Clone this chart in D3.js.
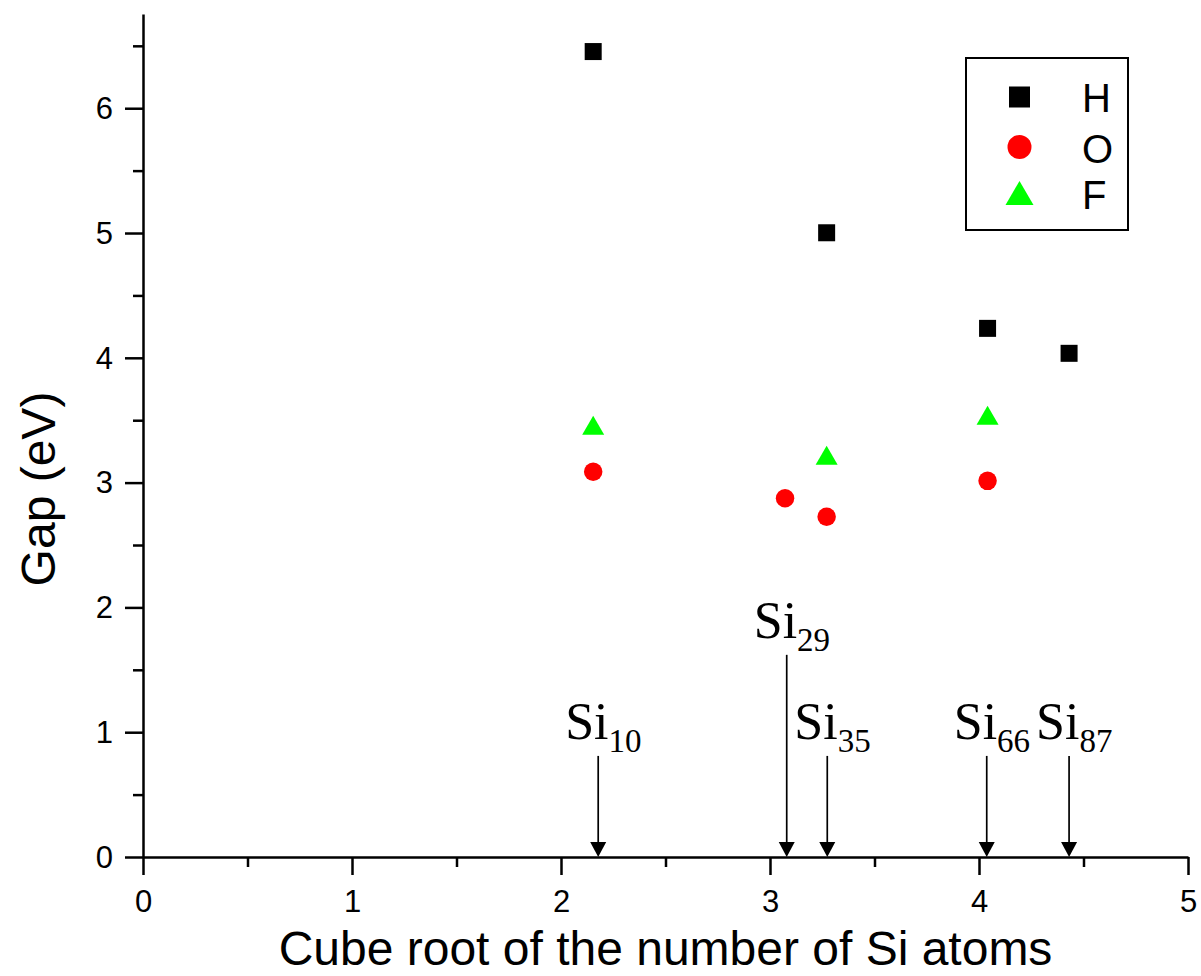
<!DOCTYPE html>
<html>
<head>
<meta charset="utf-8">
<script src="https://cdn.jsdelivr.net/npm/d3@7"></script>
<style>
  html, body { margin: 0; padding: 0; background: #fff; }
  svg { display: block; }
  text { font-family: "Liberation Sans", Arial, sans-serif; fill: #000; }
  .serif { font-family: "Liberation Serif", "Times New Roman", serif; }
</style>
</head>
<body>
<script>
// Band gap of passivated Si clusters vs. cube root of cluster size
const H_x = [2.154, 3.271, 4.041, 4.431];
const H_y = [6.454, 5.002, 4.236, 4.036];
const O_x = [2.154, 3.072, 3.271, 4.041];
const O_y = [3.087, 2.875, 2.726, 3.014];
const F_x = [2.154, 3.271, 4.041];
const F_y = [3.459, 3.219, 3.539];

const seriesNames = ["H", "O", "F"];
const xTicks = [0, 1, 2, 3, 4, 5];
const xMinorTicks = [0.5, 1.5, 2.5, 3.5, 4.5];
const yTicks = [0, 1, 2, 3, 4, 5, 6];
const yMinorTicks = [0.5, 1.5, 2.5, 3.5, 4.5, 5.5, 6.5];

// Cluster markers along the x axis: subscript size, arrow position, arrow tail height
const clusterSizes = ["10", "29", "35", "66", "87"];
const clusterArrowX = [2.178, 3.08, 3.274, 4.037, 4.431];
const clusterArrowTop = [0.81, 1.62, 0.81, 0.81, 0.81];

const W = 1201, Hgt = 976;
const svg = d3.select("body").append("svg").attr("width", W).attr("height", Hgt);

const x = d3.scaleLinear().domain([0, 5]).range([143, 1188]);
const y = d3.scaleLinear().domain([0, 6.755]).range([857, 14]);

const AX = 2.5;

// x axis: major and minor ticks
const gx = svg.append("g").attr("transform", `translate(0,${y(0)})`)
  .call(d3.axisBottom(x).tickValues(xTicks).tickSize(18).tickSizeOuter(0).tickFormat(d3.format("d")));
svg.append("g").attr("transform", `translate(0,${y(0)})`)
  .call(d3.axisBottom(x).tickValues(xMinorTicks).tickSize(10).tickSizeOuter(0).tickFormat(""))
  .select(".domain").remove();

// y axis: major and minor ticks
const gy = svg.append("g").attr("transform", `translate(${x(0)},0)`)
  .call(d3.axisLeft(y).tickValues(yTicks).tickSize(18).tickSizeOuter(0).tickFormat(d3.format("d")));
svg.append("g").attr("transform", `translate(${x(0)},0)`)
  .call(d3.axisLeft(y).tickValues(yMinorTicks).tickSize(10).tickSizeOuter(0).tickFormat(""))
  .select(".domain").remove();

svg.selectAll(".domain, .tick line").attr("stroke", "#000").attr("stroke-width", AX);
svg.selectAll(".tick text").attr("font-family", "Liberation Sans, Arial, sans-serif")
  .attr("font-size", 31).attr("fill", "#000");
gx.selectAll(".tick text").attr("y", 33).attr("dy", "0.71em");
gy.selectAll(".tick text").attr("x", -30).attr("dy", "0.33em");

// axis titles
svg.append("text").attr("x", (x(0) + x(5)) / 2).attr("y", 965)
  .attr("text-anchor", "middle").attr("font-size", 48)
  .text("Cube root of the number of Si atoms");
svg.append("text").attr("transform", `translate(55,489) rotate(-90)`)
  .attr("text-anchor", "middle").attr("font-size", 48)
  .text("Gap (eV)");

// marker shapes
function trianglePath(w, h) {
  return `M0,${-h / 2}L${w / 2},${h / 2}L${-w / 2},${h / 2}Z`;
}
const sqPlot = 17, circR = 9.25, triW = 22, triH = 19;

const gData = svg.append("g");
gData.selectAll("rect.h").data(H_x.map((v, i) => [v, H_y[i]])).join("rect")
  .attr("class", "h")
  .attr("x", d => x(d[0]) - sqPlot / 2).attr("y", d => y(d[1]) - sqPlot / 2)
  .attr("width", sqPlot).attr("height", sqPlot).attr("fill", "#000");
gData.selectAll("circle.o").data(O_x.map((v, i) => [v, O_y[i]])).join("circle")
  .attr("class", "o")
  .attr("cx", d => x(d[0])).attr("cy", d => y(d[1])).attr("r", circR).attr("fill", "#ff0000");
gData.selectAll("path.f").data(F_x.map((v, i) => [v, F_y[i]])).join("path")
  .attr("class", "f")
  .attr("transform", d => `translate(${x(d[0])},${y(d[1])})`)
  .attr("d", trianglePath(triW, triH)).attr("fill", "#00ff00");

// cluster arrows and labels
const gArr = svg.append("g");
clusterSizes.forEach((s, i) => {
  const ax = x(clusterArrowX[i]);
  const top = y(clusterArrowTop[i]);
  const bottom = y(0);
  gArr.append("line").attr("x1", ax).attr("x2", ax).attr("y1", top).attr("y2", bottom - 14)
    .attr("stroke", "#000").attr("stroke-width", 1.7);
  gArr.append("path")
    .attr("d", `M${ax - 8},${bottom - 15}L${ax + 8},${bottom - 15}L${ax},${bottom}Z`)
    .attr("fill", "#000");
  const t = gArr.append("text").attr("class", "serif")
    .attr("x", ax - 33).attr("y", top - 17).attr("font-size", 52);
  t.append("tspan").text("Si");
  t.append("tspan").attr("font-size", 33).attr("dy", 13).text(s);
});

// legend
const lg = svg.append("g");
lg.append("rect").attr("x", 966).attr("y", 58).attr("width", 162).attr("height", 172)
  .attr("fill", "none").attr("stroke", "#000").attr("stroke-width", 2);
const lx = 1019.5, rows = [97, 147, 193], tb = [111.7, 162.5, 209.3];
lg.append("rect").attr("x", lx - 10.5).attr("y", rows[0] - 10.5).attr("width", 21).attr("height", 21).attr("fill", "#000");
lg.append("circle").attr("cx", lx).attr("cy", rows[1]).attr("r", 12).attr("fill", "#ff0000");
lg.append("path").attr("transform", `translate(${lx},${rows[2]})`).attr("d", trianglePath(28, 24)).attr("fill", "#00ff00");
seriesNames.forEach((n, i) => {
  lg.append("text").attr("x", 1082).attr("y", tb[i]).attr("font-size", 40).text(n);
});
</script>
</body>
</html>
